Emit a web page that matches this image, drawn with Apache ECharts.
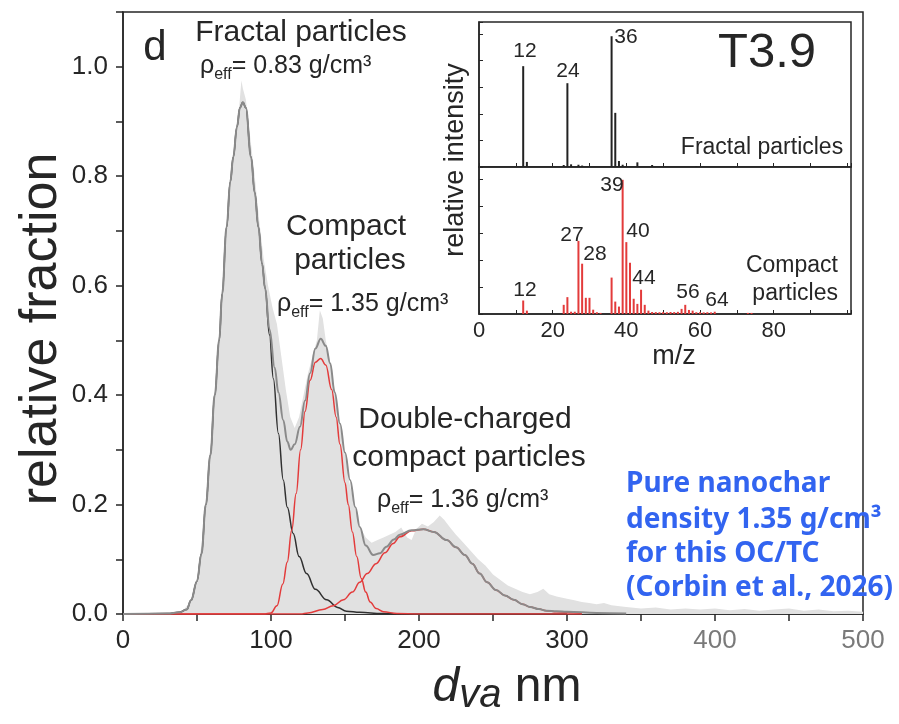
<!DOCTYPE html>
<html>
<head>
<meta charset="utf-8">
<script src="https://cdn.jsdelivr.net/npm/echarts@6/dist/echarts.min.js"></script>
<style>
html, body { margin: 0; padding: 0; background: #fff; }
#chart { width: 899px; height: 724px; }
</style>
</head>
<body>
<div id="chart"></div>
<script>
// size distribution, [d_va nm, relative fraction]
const measured = [[0,0],[20,0],[35,0.002],[40,0.005],[45,0.02],[50,0.065],[55,0.17],[60,0.33],[63,0.43],[66,0.55],[69,0.67],[72,0.77],[75,0.85],[78,0.91],[80,0.975],[81,0.96],[83,0.94],[86,0.87],[89,0.8],[92,0.72],[95,0.65],[98,0.6],[101,0.56],[104,0.53],[107,0.47],[110,0.41],[113,0.36],[116,0.34],[119,0.36],[122,0.4],[125,0.44],[128,0.47],[131,0.5],[133,0.555],[135,0.54],[137,0.5],[140,0.46],[143,0.41],[146,0.355],[150,0.29],[153,0.24],[157,0.19],[160,0.16],[164,0.14],[168,0.13],[172,0.135],[176,0.14],[180,0.145],[184,0.15],[188,0.158],[192,0.14],[195,0.135],[198,0.155],[202,0.165],[206,0.16],[210,0.168],[214,0.18],[217,0.172],[221,0.158],[225,0.145],[230,0.13],[235,0.115],[240,0.1],[245,0.088],[250,0.072],[255,0.062],[260,0.052],[265,0.046],[270,0.04],[275,0.036],[280,0.04],[284,0.046],[288,0.036],[293,0.032],[300,0.028],[305,0.025],[310,0.022],[315,0.02],[320,0.018],[325,0.02],[330,0.016],[340,0.013],[350,0.01],[360,0.012],[370,0.008],[380,0.01],[390,0.008],[400,0.01],[410,0.007],[420,0.009],[430,0.006],[440,0.008],[450,0.01],[460,0.006],[470,0.008],[480,0.005],[490,0.006],[500,0.004]];

const totalFit = [[0,0],[30,0.001],[38,0.003],[43,0.008],[46,0.025],[50,0.06],[53,0.11],[56,0.2],[59,0.29],[62,0.4],[65,0.5],[67,0.585],[70,0.707],[72.5,0.79],[74.5,0.835],[77,0.89],[79,0.925],[81,0.935],[83,0.925],[86.5,0.835],[89,0.77],[91.5,0.707],[94,0.64],[96,0.595],[99,0.52],[102.5,0.45],[105,0.405],[108.3,0.354],[111,0.315],[113.3,0.3],[116,0.31],[119.6,0.342],[123,0.39],[126.4,0.44],[130,0.485],[133.6,0.503],[137,0.49],[140,0.458],[143,0.405],[146.6,0.348],[150,0.295],[153.4,0.245],[157,0.195],[160,0.159],[164,0.125],[169,0.108],[173.6,0.111],[178,0.123],[183,0.136],[187,0.145],[195,0.153],[203,0.155],[210,0.15],[218.7,0.135],[225,0.122],[231,0.108],[236,0.092],[241,0.074],[246,0.058],[252,0.044],[258,0.034],[264,0.026],[270,0.018],[275,0.013],[281,0.009],[286,0.006],[293,0.005],[300,0.004],[320,0.002],[340,0.001]];

const fractalMode = [[0,0],[30,0.001],[38,0.003],[43,0.008],[46,0.025],[50,0.06],[53,0.11],[56,0.2],[59,0.29],[62,0.4],[65,0.5],[67,0.585],[70,0.707],[72.5,0.79],[74.5,0.835],[77,0.89],[79,0.925],[81,0.935],[83,0.925],[86.5,0.835],[89,0.77],[91.5,0.707],[94,0.64],[96,0.595],[99,0.51],[101.6,0.43],[105,0.33],[108.3,0.245],[111,0.195],[115,0.147],[119,0.105],[124,0.074],[130,0.045],[137.6,0.026],[145,0.012],[151,0.005],[160,0.003],[175,0.001],[200,0],[300,0]];

const compactMode = [[0,0],[95,0],[100,0.002],[104,0.015],[108,0.055],[111,0.095],[114,0.153],[117,0.22],[120,0.3],[123,0.37],[126.4,0.427],[130,0.46],[133.6,0.467],[137,0.455],[141,0.41],[144,0.36],[146.6,0.31],[150,0.24],[152.2,0.2],[155,0.15],[157.9,0.105],[161,0.065],[164,0.04],[167,0.022],[171,0.01],[176,0.004],[185,0.001],[200,0],[310,0]];

const doubleMode = [[0,0],[120,0],[125,0.002],[135,0.008],[142,0.015],[149,0.026],[155,0.04],[160,0.058],[165,0.074],[171,0.092],[177,0.112],[182.6,0.129],[187,0.141],[195,0.152],[203,0.155],[210,0.15],[218.7,0.135],[225,0.122],[231,0.108],[236,0.092],[241,0.074],[246,0.058],[252,0.044],[258,0.034],[264,0.026],[270,0.018],[275,0.013],[281,0.009],[286,0.006],[293,0.004],[300,0.003],[310,0.001]];

// inset mass spectra, [m/z, relative intensity]
const fractalSpectrum = [[12,0.758],[13,0.038],[23,0.015],[24,0.63],[25,0.02],[27,0.017],[28,0.011],[36,0.983],[37,0.407],[38,0.045],[39,0.017],[40,0.005],[43,0.035],[47,0.015],[59,0.005]];

const compactSpectrum = [[12,0.1],[13,0.025],[23,0.068],[24,0.125],[25,0.017],[26,0.017],[27,0.542],[28,0.373],[29,0.12],[30,0.12],[31,0.032],[32,0.013],[33,0.008],[36,0.27],[37,0.092],[38,0.055],[39,0.995],[40,0.533],[41,0.38],[42,0.113],[43,0.075],[44,0.18],[45,0.068],[46,0.025],[47,0.015],[48,0.014],[49,0.013],[50,0.014],[51,0.013],[52,0.015],[53,0.014],[54,0.016],[55,0.038],[56,0.068],[57,0.03],[58,0.025],[59,0.013],[60,0.013],[61,0.012],[62,0.013],[63,0.012],[64,0.017],[73,0.008],[74,0.008]];

const sans = '"Liberation Sans", Arial, sans-serif';
const ink = '#262626';
const red = '#e33b3b';

function label(x, y, text, size, align, color, extra) {
  return Object.assign({
    type: 'text', x: x, y: y, z: 100,
    style: { text: text, fontFamily: sans, fontSize: size, fill: color || ink,
      align: align || 'center', verticalAlign: 'middle' }
  }, extra || {});
}

function rhoLabel(x, y, value) {
  const tok = (fs, lh, va) => ({ fontFamily: sans, fontSize: fs, lineHeight: lh, fill: ink, verticalAlign: va });
  return {
    type: 'text', x: x, y: y, z: 100,
    style: {
      text: '{m|ρ}{s|eff}{m|= ' + value + ' g/cm³}',
      fontFamily: sans, fontSize: 25, fill: ink, align: 'left', verticalAlign: 'middle',
      rich: { m: tok(25, 34, 'middle'), s: tok(16, 16, 'bottom') }
    }
  };
}

function blue(y, text) {
  return {
    type: 'text', x: 626, y: y, z: 100,
    style: { text: text, fontFamily: '"Noto Sans", "Open Sans", sans-serif', fontWeight: 'bold',
      fontSize: 28, fill: '#3264f0', align: 'left', verticalAlign: 'middle' }
  };
}

const axisLineStyle = { color: ink, width: 1.5 };

const chart = echarts.init(document.getElementById('chart'));

chart.setOption({
  animation: false,
  grid: [
    { left: 123, top: 12, width: 740, height: 602, show: true, borderColor: ink, borderWidth: 1.5 },
    { left: 479, top: 22, width: 372, height: 145, show: true, borderColor: ink, borderWidth: 1.5, backgroundColor: '#fff' },
    { left: 479, top: 167, width: 372, height: 147, show: true, borderColor: ink, borderWidth: 1.5, backgroundColor: '#fff' }
  ],
  xAxis: [
    {
      gridIndex: 0, type: 'value', min: 0, max: 500, interval: 50,
      axisLine: { show: true, lineStyle: axisLineStyle },
      axisTick: { show: true, length: 7, lineStyle: axisLineStyle },
      axisLabel: {
        fontFamily: sans, fontSize: 26, margin: 14,
        color: v => Number(v) >= 400 ? '#7a7a7a' : ink,
        formatter: v => v % 100 === 0 ? String(v) : ''
      },
      splitLine: { show: false }
    },
    {
      gridIndex: 1, type: 'value', min: 0, max: 101, interval: 10,
      axisLine: { show: true, lineStyle: axisLineStyle },
      axisTick: { show: true, inside: true, length: 4, lineStyle: { color: ink, width: 1 } },
      axisLabel: { show: false },
      splitLine: { show: false }
    },
    {
      gridIndex: 2, type: 'value', min: 0, max: 101, interval: 10,
      axisLine: { show: true, lineStyle: axisLineStyle },
      axisTick: { show: true, inside: true, length: 4, lineStyle: { color: ink, width: 1 } },
      axisLabel: {
        fontFamily: sans, fontSize: 22, margin: 6, color: ink,
        formatter: v => (v % 20 === 0 && v <= 80) ? String(v) : ''
      },
      splitLine: { show: false }
    }
  ],
  yAxis: [
    {
      gridIndex: 0, type: 'value', min: 0, max: 1.1, interval: 0.1,
      axisLine: { show: true, lineStyle: axisLineStyle },
      axisTick: { show: true, length: 7, lineStyle: axisLineStyle },
      axisLabel: {
        fontFamily: sans, fontSize: 26, margin: 15, color: ink,
        formatter: v => (Math.round(v * 10) % 2 === 0 && v < 1.05) ? v.toFixed(1) : ''
      },
      splitLine: { show: false }
    },
    {
      gridIndex: 1, type: 'value', min: 0, max: 1.09, interval: 0.2,
      axisLine: { show: true, lineStyle: axisLineStyle },
      axisTick: { show: true, inside: true, length: 4, lineStyle: { color: ink, width: 1 } },
      axisLabel: { show: false },
      splitLine: { show: false }
    },
    {
      gridIndex: 2, type: 'value', min: 0, max: 1.09, interval: 0.2,
      axisLine: { show: true, lineStyle: axisLineStyle },
      axisTick: { show: true, inside: true, length: 4, lineStyle: { color: ink, width: 1 } },
      axisLabel: { show: false },
      splitLine: { show: false }
    }
  ],
  series: [
    {
      name: 'measured', type: 'line', data: measured, symbol: 'none', z: 1,
      lineStyle: { width: 0 }, areaStyle: { color: '#e1e1e1', opacity: 1 }
    },
    {
      name: 'fractal', type: 'line', data: fractalMode, symbol: 'none', z: 2,
      smooth: 0.4, smoothMonotone: 'x', lineStyle: { color: '#303030', width: 1.5 }
    },
    {
      name: 'compact', type: 'line', data: compactMode, symbol: 'none', z: 3,
      smooth: 0.4, smoothMonotone: 'x', lineStyle: { color: red, width: 1.5 }
    },
    {
      name: 'double-charged', type: 'line', data: doubleMode, symbol: 'none', z: 3,
      smooth: 0.4, smoothMonotone: 'x', lineStyle: { color: red, width: 1.5 }
    },
    {
      name: 'total', type: 'line', data: totalFit, symbol: 'none', z: 4,
      smooth: 0.4, smoothMonotone: 'x', lineStyle: { color: '#8a8a8a', width: 2 }
    },
    {
      name: 'fractal spectrum', type: 'bar', xAxisIndex: 1, yAxisIndex: 1,
      data: fractalSpectrum, barWidth: 2, itemStyle: { color: '#222' }
    },
    {
      name: 'compact spectrum', type: 'bar', xAxisIndex: 2, yAxisIndex: 2,
      data: compactSpectrum, barWidth: 2, itemStyle: { color: red }
    }
  ],
  graphic: [
    // axis titles
    label(42, 329, 'relative fraction', 52, 'center', ink, { rotation: Math.PI / 2 }),
    {
      type: 'text', x: 507, y: 688, z: 100,
      style: {
        text: '{d|d}{v|va}{n| nm}', align: 'center', verticalAlign: 'middle',
        fontFamily: sans, fontSize: 48, fill: ink,
        rich: {
          d: { fontFamily: sans, fontSize: 48, lineHeight: 56, fontStyle: 'italic', fill: ink },
          v: { fontFamily: sans, fontSize: 40, lineHeight: 32, fontStyle: 'italic', fill: ink, verticalAlign: 'bottom' },
          n: { fontFamily: sans, fontSize: 48, lineHeight: 56, fill: ink }
        }
      }
    },
    // main annotations
    label(155, 48, 'd', 42),
    label(301, 33, 'Fractal particles', 30),
    rhoLabel(200, 66, '0.83'),
    label(346, 227, 'Compact', 30),
    label(350, 261, 'particles', 30),
    rhoLabel(277, 304, '1.35'),
    label(465, 420, 'Double-charged', 30),
    label(469, 458, 'compact particles', 30),
    rhoLabel(377, 500, '1.36'),
    blue(484, 'Pure nanochar'),
    blue(520, 'density 1.35 g/cm³'),
    blue(554, 'for this OC/TC'),
    blue(588, '(Corbin et al., 2026)'),
    // inset texts
    label(456, 160, 'relative intensity', 27, 'center', ink, { rotation: Math.PI / 2 }),
    label(674, 357, 'm/z', 27),
    label(767, 53, 'T3.9', 49),
    label(762, 148, 'Fractal particles', 23),
    label(838, 266, 'Compact', 23, 'right'),
    label(838, 294, 'particles', 23, 'right'),
    label(525, 51, '12', 21),
    label(568, 71, '24', 21),
    label(626, 37, '36', 21),
    label(525, 290, '12', 21),
    label(572, 235, '27', 21),
    label(595, 254, '28', 21),
    label(612, 185, '39', 21),
    label(638, 231, '40', 21),
    label(644, 278, '44', 21),
    label(688, 292, '56', 21),
    label(717, 300, '64', 21)
  ]
});
</script>
</body>
</html>
